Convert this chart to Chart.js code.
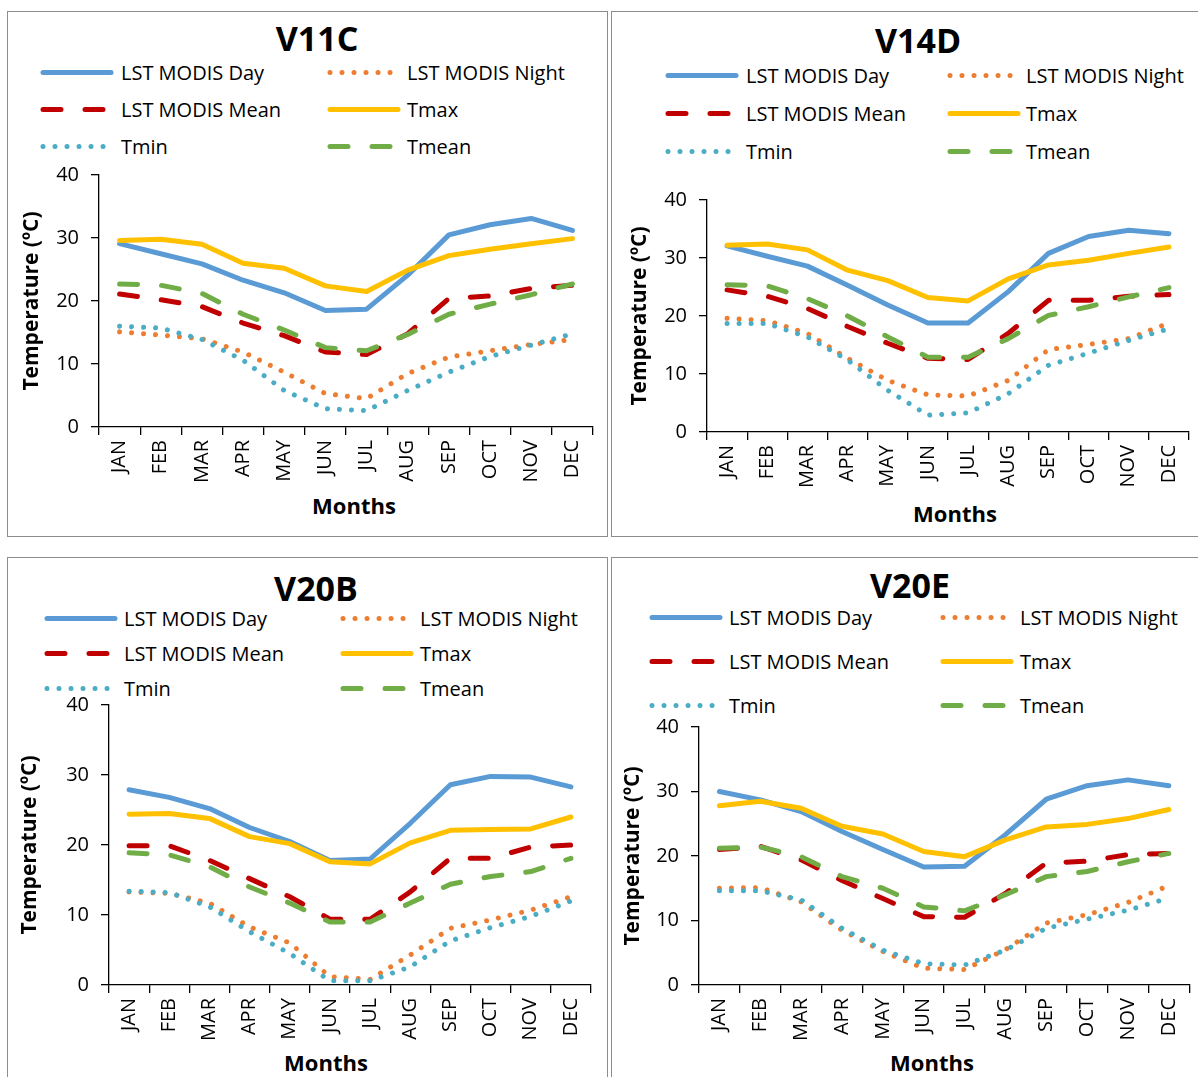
<!DOCTYPE html>
<html>
<head>
<meta charset="utf-8">
<script src="https://cdn.jsdelivr.net/npm/chart.js@4.4.1/dist/chart.umd.min.js"></script>
<style>
  html, body { margin:0; padding:0; background:#fff; }
  body { width:1198px; height:1077px; position:relative; overflow:hidden; font-family:"Open Sans", sans-serif; }
  .panel { position:absolute; border:1.5px solid #8c8c8c; box-sizing:border-box; }
  canvas { position:absolute; }
  .title { position:absolute; font-weight:bold; font-size:34px; color:#000; transform:translate(-50%,-50%); white-space:nowrap; line-height:1; }
  .xtitle { position:absolute; font-weight:bold; font-size:22px; color:#000; transform:translate(-50%,-50%); white-space:nowrap; line-height:1; }
  .leg { position:absolute; display:flex; align-items:center; transform:translateY(-50%); white-space:nowrap; font-size:20px; color:#000; }
  .leg svg { display:block; }
</style>
</head>
<body>
<script>
// ---------- DATA ----------
const months = ['JAN','FEB','MAR','APR','MAY','JUN','JUL','AUG','SEP','OCT','NOV','DEC'];
const seriesNames = ['LST MODIS Day','LST MODIS Night','LST MODIS Mean','Tmax','Tmin','Tmean'];
const yAxisTitle = 'Temperature (ºC)';
const xAxisTitle = 'Months';

// V11C
const v11cDay   = [29.1, 27.5, 25.9, 23.3, 21.3, 18.5, 18.7, 24.1, 30.5, 32.1, 33.1, 31.2];
const v11cNight = [15.1, 14.6, 14.0, 11.9,  8.7,  5.3,  4.5,  8.5, 11.1, 12.1, 13.1, 13.9];
const v11cMean  = [21.1, 20.2, 19.1, 16.5, 14.5, 11.9, 11.5, 14.8, 20.4, 20.8, 22.0, 22.5];
const v11cTmax  = [29.6, 29.8, 29.0, 26.0, 25.2, 22.4, 21.5, 24.9, 27.2, 28.2, 29.1, 29.9];
const v11cTmin  = [16.0, 15.7, 13.9, 10.6,  5.8,  2.9,  2.6,  5.8,  8.7, 11.2, 13.0, 14.8];
const v11cTmean = [22.7, 22.5, 21.2, 17.9, 15.4, 12.6, 12.1, 14.7, 17.9, 19.5, 21.0, 22.7];

// V14D
const v14dDay   = [32.1, 30.3, 28.6, 25.3, 21.9, 18.8, 18.8, 24.2, 30.8, 33.7, 34.8, 34.2];
const v14dNight = [19.6, 19.2, 17.0, 12.7,  8.9,  6.4,  6.2,  8.9, 14.2, 15.1, 16.1, 18.8];
const v14dMean  = [24.5, 23.4, 21.3, 18.2, 15.3, 12.7, 12.5, 17.0, 22.7, 22.7, 23.4, 23.7];
const v14dTmax  = [32.2, 32.4, 31.4, 27.9, 26.1, 23.2, 22.6, 26.4, 28.8, 29.6, 30.8, 31.9];
const v14dTmin  = [18.7, 18.7, 16.4, 12.4,  7.2,  2.9,  3.3,  6.6, 11.5, 13.6, 15.8, 17.8];
const v14dTmean = [25.4, 25.2, 23.0, 20.0, 16.4, 12.9, 12.9, 16.1, 20.1, 21.6, 23.3, 24.9];

// V20B
const v20bDay   = [27.9, 26.8, 25.2, 22.5, 20.5, 17.8, 18.0, 23.1, 28.6, 29.8, 29.7, 28.3];
const v20bNight = [13.3, 13.1, 11.7,  8.3,  6.0,  1.2,  0.8,  4.3,  8.1,  9.3, 10.7, 12.6];
const v20bMean  = [19.9, 19.9, 17.8, 15.2, 12.6,  9.4,  9.4, 13.3, 18.1, 18.1, 19.7, 20.0];
const v20bTmax  = [24.4, 24.5, 23.8, 21.2, 20.2, 17.6, 17.3, 20.3, 22.1, 22.2, 22.3, 24.0];
const v20bTmin  = [13.4, 13.2, 11.2,  7.6,  4.5,  0.6,  0.6,  2.6,  6.3,  8.2,  9.8, 12.0];
const v20bTmean = [18.9, 18.6, 16.9, 14.0, 11.7,  9.0,  9.0, 11.7, 14.4, 15.5, 16.2, 18.1];

// V20E
const v20eDay   = [30.0, 28.7, 26.9, 23.8, 21.0, 18.3, 18.4, 23.3, 28.8, 30.9, 31.8, 30.9];
const v20eNight = [15.0, 15.1, 12.9,  8.5,  5.2,  2.6,  2.4,  5.5,  9.6, 10.9, 12.8, 15.4];
const v20eMean  = [21.0, 21.5, 19.4, 16.2, 13.4, 10.6, 10.5, 14.2, 18.9, 19.2, 20.2, 20.4];
const v20eTmax  = [27.8, 28.5, 27.4, 24.6, 23.4, 20.7, 19.9, 22.5, 24.5, 24.9, 25.8, 27.2];
const v20eTmin  = [14.6, 14.6, 13.2,  8.8,  5.4,  3.3,  3.1,  5.4,  8.8, 10.2, 11.6, 13.5];
const v20eTmean = [21.2, 21.4, 19.9, 16.8, 15.0, 12.1, 11.5, 14.0, 16.8, 17.6, 19.1, 20.4];

const yMin = 0, yMax = 40, yStep = 10;

// ---------- STYLES ----------
const seriesColors = ['#5B9BD5','#ED7D31','#C00000','#FFC000','#4BACC6','#70AD47'];
const seriesDash   = [[], [0.01, 12], [18, 24], [], [0.01, 12], [18, 24]];
const FONT = '"Open Sans", sans-serif';

// panel layouts (page pixel coordinates)
const panels = [
  { title:'V11C', data:[v11cDay,v11cNight,v11cMean,v11cTmax,v11cTmin,v11cTmean],
    box:[7,11,601,526], canvas:[9,12,598,524], area:{L:99,T:175,R:593,B:427},
    yTitleX:32, xTitleXY:[354,505], titleXY:[317,38],
    legRows:[72,109,146], legCols:[[43,121],[330,407]] },
  { title:'V14D', data:[v14dDay,v14dNight,v14dMean,v14dTmax,v14dTmin,v14dTmean],
    box:[611,11,600,526], canvas:[613,12,585,524], area:{L:707,T:200,R:1197,B:432},
    yTitleX:640, xTitleXY:[955,513], titleXY:[918,40],
    legRows:[75,113,151], legCols:[[668,746],[950,1026]] },
  { title:'V20B', data:[v20bDay,v20bNight,v20bMean,v20bTmax,v20bTmin,v20bTmean],
    box:[7,557,601,540], canvas:[9,559,598,518], area:{L:109,T:705,R:591,B:985},
    yTitleX:30, xTitleXY:[326,1062], titleXY:[316,588],
    legRows:[618,653,688], legCols:[[47,124],[343,420]] },
  { title:'V20E', data:[v20eDay,v20eNight,v20eMean,v20eTmax,v20eTmin,v20eTmean],
    box:[611,557,600,540], canvas:[613,559,585,518], area:{L:699,T:727,R:1194,B:985},
    yTitleX:633, xTitleXY:[932,1062], titleXY:[910,585],
    legRows:[617,661,705], legCols:[[652,729],[943,1020]] }
];

function legendSample(i) {
  const dash = seriesDash[i].length ? `stroke-dasharray="${seriesDash[i].join(' ')}"` : '';
  return `<svg width="74" height="12"><line x1="3" y1="6" x2="71" y2="6" stroke="${seriesColors[i]}" stroke-width="5" stroke-linecap="round" ${dash}/></svg>`;
}

panels.forEach((p) => {
  const box = document.createElement('div');
  box.className = 'panel';
  Object.assign(box.style, {left:p.box[0]+'px', top:p.box[1]+'px', width:p.box[2]+'px', height:p.box[3]+'px'});
  document.body.appendChild(box);

  const t = document.createElement('div');
  t.className = 'title';
  t.textContent = p.title;
  t.style.left = p.titleXY[0]+'px'; t.style.top = p.titleXY[1]+'px';
  document.body.appendChild(t);

  const xt = document.createElement('div');
  xt.className = 'xtitle';
  xt.textContent = xAxisTitle;
  xt.style.left = p.xTitleXY[0]+'px'; xt.style.top = p.xTitleXY[1]+'px';
  document.body.appendChild(xt);

  // legend: 3 rows x 2 cols, order row-wise
  seriesNames.forEach((name, i) => {
    const row = Math.floor(i/2), col = i % 2;
    const lg = document.createElement('div');
    lg.className = 'leg';
    lg.style.left = (p.legCols[col][0]-3)+'px';
    lg.style.top = p.legRows[row]+'px';
    lg.innerHTML = legendSample(i) + `<span style="margin-left:${p.legCols[col][1]-p.legCols[col][0]-71}px">${name}</span>`;
    document.body.appendChild(lg);
  });

  const [cx, cy, cw, ch] = p.canvas;
  const cv = document.createElement('canvas');
  cv.width = cw; cv.height = ch;
  Object.assign(cv.style, {left:cx+'px', top:cy+'px', width:cw+'px', height:ch+'px'});
  document.body.appendChild(cv);

  const a = p.area;
  const yW = a.L - cx, xH = (cy + ch) - a.B;
  const yTitleSize = 21;

  new Chart(cv.getContext('2d'), {
    type:'line',
    data:{
      labels: months,
      datasets: p.data.map((vals, i) => ({
        label: seriesNames[i],
        data: vals,
        borderColor: seriesColors[i],
        backgroundColor: seriesColors[i],
        borderWidth: 5,
        borderDash: seriesDash[i],
        borderCapStyle: 'round',
        borderJoinStyle: 'round',
        pointRadius: 0,
        tension: 0,
        fill: false,
        order: -i
      }))
    },
    options:{
      responsive:false, animation:false, maintainAspectRatio:false,
      layout:{ padding:{ left:0, top:a.T - cy, right:(cx+cw) - a.R, bottom:0 } },
      plugins:{ legend:{display:false}, title:{display:false}, tooltip:{enabled:false} },
      scales:{
        x:{
          type:'category', offset:true,
          grid:{ offset:true, drawOnChartArea:false, drawTicks:true, tickLength:8, color:'#000', lineWidth:1.3 },
          border:{ display:true, color:'#000', width:1.3 },
          ticks:{ minRotation:90, maxRotation:90, autoSkip:false, padding:5, color:'#000', font:{family:FONT, size:20} },
          title:{ display:false },
          afterFit:(s) => { s.height = xH; }
        },
        y:{
          min:yMin, max:yMax,
          grid:{ drawOnChartArea:false, drawTicks:true, tickLength:8, color:'#000', lineWidth:1.3 },
          border:{ display:true, color:'#000', width:1.3 },
          ticks:{ stepSize:yStep, padding:12, color:'#000', font:{family:FONT, size:20} },
          title:{ display:true, text:yAxisTitle, color:'#000', font:{family:FONT, size:yTitleSize, weight:'bold'},
                  padding:{ top:p.yTitleX - cx - yTitleSize*0.6, bottom:0 } },
          afterFit:(s) => { s.width = yW; }
        }
      }
    }
  });
});
</script>
</body>
</html>
